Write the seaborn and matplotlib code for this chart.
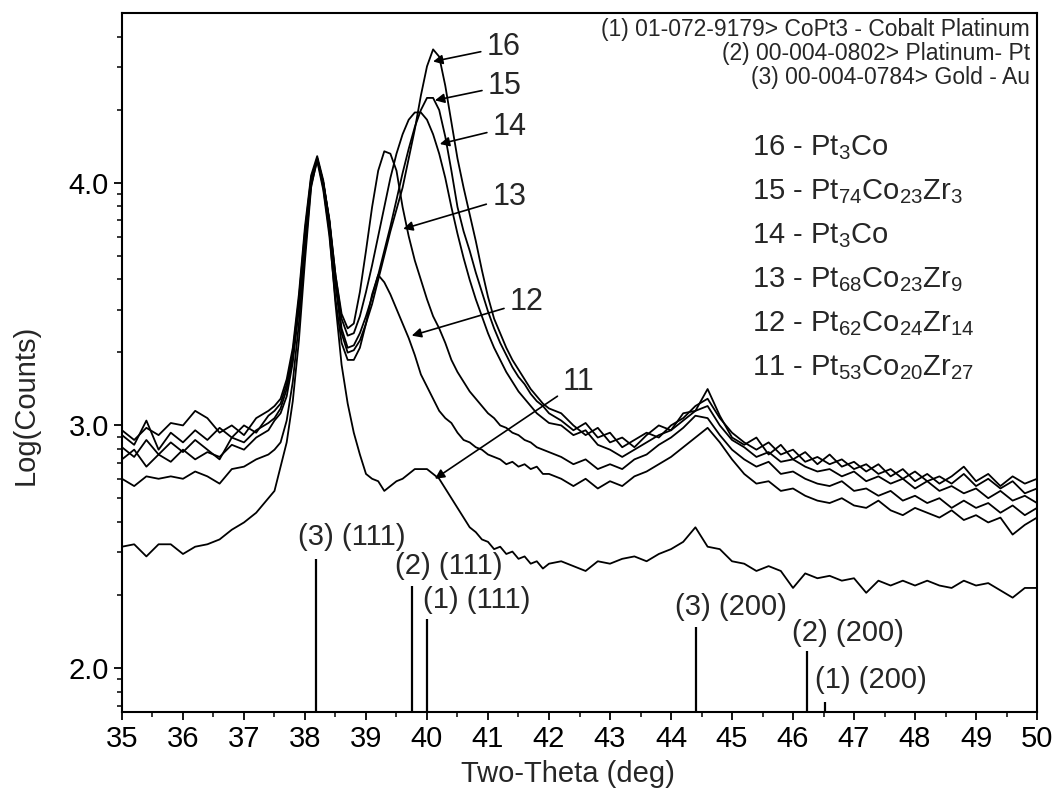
import numpy as np
import pandas as pd
import matplotlib
matplotlib.use("Agg")
import matplotlib.pyplot as plt
import seaborn as sns

# two-theta grid: coarse on the flat parts, finer across the peaks
two_theta = np.round(np.concatenate([
    np.arange(35.0, 37.41, 0.2),
    np.arange(37.5, 42.01, 0.1),
    np.arange(42.2, 50.01, 0.2),
]), 2)

# Log(Counts), one list per sample
s11 = [2.50, 2.51, 2.46, 2.51, 2.51, 2.47, 2.50, 2.51, 2.53, 2.57, 2.60, 2.64, 2.70,
       2.73, 2.83, 2.93, 3.10, 3.35, 3.68, 3.98, 4.10, 3.98, 3.80,
       3.50, 3.25, 3.09, 2.97, 2.88, 2.80, 2.78, 2.77, 2.73, 2.75,
       2.77, 2.78, 2.80, 2.82, 2.82, 2.82, 2.80, 2.78, 2.74, 2.70,
       2.66, 2.62, 2.58, 2.56, 2.53, 2.52, 2.49, 2.50, 2.47, 2.48,
       2.45, 2.46, 2.43, 2.44, 2.41, 2.43,
       2.44, 2.42, 2.40, 2.44, 2.43, 2.45, 2.46, 2.44, 2.47, 2.49,
       2.52, 2.58, 2.50, 2.49, 2.44, 2.43, 2.40, 2.42, 2.40, 2.33,
       2.39, 2.37, 2.38, 2.36, 2.37, 2.31, 2.36, 2.34, 2.36, 2.34,
       2.36, 2.34, 2.33, 2.36, 2.34, 2.35, 2.32, 2.29, 2.33, 2.33]
s12 = [2.78, 2.75, 2.79, 2.78, 2.79, 2.78, 2.81, 2.79, 2.76, 2.82, 2.83, 2.86, 2.88,
       2.90, 2.93, 3.02, 3.18, 3.42, 3.72, 3.99, 4.09, 3.97, 3.78,
       3.52, 3.34, 3.27, 3.27, 3.32, 3.42, 3.54, 3.62, 3.59, 3.54,
       3.48, 3.42, 3.36, 3.29, 3.21, 3.16, 3.11, 3.06, 3.03, 3.01,
       2.97, 2.94, 2.93, 2.91, 2.90, 2.88, 2.87, 2.86, 2.84, 2.85,
       2.83, 2.84, 2.82, 2.83, 2.80, 2.80,
       2.78, 2.75, 2.78, 2.74, 2.77, 2.75, 2.79, 2.81, 2.84, 2.87,
       2.91, 2.95, 2.99, 2.93, 2.86, 2.80, 2.76, 2.77, 2.73, 2.74,
       2.71, 2.69, 2.68, 2.70, 2.67, 2.66, 2.69, 2.65, 2.63, 2.66,
       2.64, 2.62, 2.65, 2.61, 2.63, 2.60, 2.62, 2.55, 2.59, 2.62]
s13 = [2.86, 2.90, 2.83, 2.88, 2.85, 2.90, 2.86, 2.89, 2.87, 2.92, 2.90, 2.95, 2.98,
       3.02, 3.05, 3.12, 3.26, 3.48, 3.76, 4.00, 4.10, 4.00, 3.84,
       3.62, 3.46, 3.40, 3.42, 3.55, 3.72, 3.90, 4.05, 4.13, 4.12,
       4.05, 3.90, 3.78, 3.68, 3.60, 3.52, 3.45, 3.40, 3.34, 3.27,
       3.22, 3.18, 3.14, 3.11, 3.08, 3.05, 3.03, 3.00, 2.99, 2.97,
       2.96, 2.94, 2.93, 2.91, 2.90, 2.89,
       2.87, 2.84, 2.86, 2.82, 2.84, 2.82, 2.86, 2.88, 2.92, 2.95,
       2.99, 3.04, 3.03, 2.96, 2.90, 2.86, 2.83, 2.85, 2.80, 2.81,
       2.78, 2.76, 2.75, 2.77, 2.73, 2.74, 2.71, 2.73, 2.69, 2.71,
       2.68, 2.70, 2.66, 2.69, 2.66, 2.68, 2.64, 2.67, 2.63, 2.66]
s14 = [2.91, 2.87, 2.94, 2.88, 2.93, 2.89, 2.94, 2.90, 2.86, 2.95, 2.93, 2.98, 3.01,
       3.03, 3.07, 3.15, 3.28, 3.50, 3.78, 4.01, 4.10, 4.00, 3.85,
       3.62, 3.44, 3.37, 3.38, 3.45, 3.55, 3.66, 3.78, 3.90, 4.02,
       4.12, 4.20, 4.26, 4.29, 4.29, 4.26, 4.20, 4.12, 4.02, 3.90,
       3.79, 3.69, 3.60, 3.52, 3.45, 3.38, 3.32, 3.27, 3.22, 3.18,
       3.14, 3.11, 3.08, 3.05, 3.03, 3.01,
       3.00, 2.96, 2.98, 2.92, 2.90, 2.87, 2.90, 2.93, 2.96, 2.98,
       3.02, 3.06, 3.08, 3.00, 2.94, 2.91, 2.87, 2.89, 2.85, 2.86,
       2.83, 2.81, 2.82, 2.79, 2.81, 2.77, 2.79, 2.76, 2.78, 2.74,
       2.77, 2.73, 2.75, 2.72, 2.74, 2.70, 2.73, 2.69, 2.71, 2.68]
s15 = [2.96, 2.92, 3.02, 2.90, 2.97, 2.93, 2.98, 2.94, 2.99, 2.95, 3.00, 2.97, 3.04,
       3.06, 3.09, 3.17, 3.30, 3.52, 3.80, 4.02, 4.10, 4.00, 3.84,
       3.60, 3.40, 3.32, 3.33, 3.38, 3.45, 3.53, 3.62, 3.72, 3.82,
       3.93, 4.04, 4.14, 4.23, 4.30, 4.35, 4.35, 4.30, 4.19, 4.05,
       3.90, 3.80, 3.72, 3.63, 3.55, 3.47, 3.40, 3.34, 3.29, 3.24,
       3.20, 3.17, 3.13, 3.10, 3.08, 3.05,
       3.02, 2.98, 3.01, 2.95, 2.97, 2.91, 2.94, 2.97, 2.95, 3.00,
       3.03, 3.08, 3.11, 3.03, 2.97, 2.93, 2.90, 2.93, 2.88, 2.90,
       2.85, 2.87, 2.84, 2.86, 2.82, 2.84, 2.80, 2.82, 2.78, 2.81,
       2.77, 2.79, 2.76, 2.80, 2.75, 2.78, 2.74, 2.77, 2.72, 2.74]
s16 = [2.98, 2.94, 2.99, 2.96, 3.01, 3.00, 3.06, 3.03, 2.97, 3.00, 2.96, 3.03, 3.06,
       3.08, 3.11, 3.19, 3.32, 3.54, 3.82, 4.03, 4.11, 4.01, 3.84,
       3.58, 3.38, 3.30, 3.31, 3.35, 3.42, 3.50, 3.60, 3.70, 3.80,
       3.89, 3.98, 4.10, 4.22, 4.36, 4.48, 4.55, 4.52, 4.40, 4.25,
       4.10, 3.98, 3.87, 3.76, 3.64, 3.53, 3.44, 3.38, 3.32, 3.27,
       3.23, 3.19, 3.15, 3.12, 3.09, 3.07,
       3.05, 3.00, 2.96, 2.99, 2.93, 2.95, 2.91, 2.96, 3.00, 2.98,
       3.05, 3.06, 3.15, 3.04, 2.95, 2.92, 2.95, 2.88, 2.92, 2.86,
       2.89, 2.84, 2.88, 2.83, 2.85, 2.81, 2.84, 2.79, 2.82, 2.77,
       2.80, 2.76, 2.79, 2.83, 2.77, 2.80, 2.75, 2.79, 2.76, 2.78]

samples = ["11", "12", "13", "14", "15", "16"]
series = [s11, s12, s13, s14, s15, s16]

# reference patterns (stick positions and heights)
ref_pos = [38.18, 39.76, 40.00, 44.41, 46.23, 46.53]
ref_height = [2.45, 2.34, 2.20, 2.17, 2.07, 1.86]
ref_labels = ["(3) (111)", "(2) (111)", "(1) (111)", "(3) (200)", "(2) (200)", "(1) (200)"]
ref_label_xy = [(37.89, 2.54), (39.48, 2.42), (39.93, 2.28),
                (44.07, 2.25), (45.98, 2.145), (46.36, 1.95)]

# arrow labels: sample, arrow tip, text position
arrow_tips = [(40.10, 4.50), (40.13, 4.34), (40.21, 4.16), (39.61, 3.81), (39.75, 3.37), (40.13, 2.78)]
arrow_text = [(40.98, 4.56), (41.00, 4.40), (41.08, 4.23), (41.07, 3.94), (41.36, 3.51), (42.23, 3.18)]
arrow_names = ["16", "15", "14", "13", "12", "11"]

compositions = [
    "16 - Pt$_3$Co",
    "15 - Pt$_{74}$Co$_{23}$Zr$_3$",
    "14 - Pt$_3$Co",
    "13 - Pt$_{68}$Co$_{23}$Zr$_9$",
    "12 - Pt$_{62}$Co$_{24}$Zr$_{14}$",
    "11 - Pt$_{53}$Co$_{20}$Zr$_{27}$",
]
pdf_cards = [
    "(1) 01-072-9179> CoPt3 - Cobalt Platinum",
    "(2) 00-004-0802> Platinum- Pt",
    "(3) 00-004-0784> Gold - Au",
]

for s in series:
    assert len(s) == len(two_theta)

df = pd.concat([pd.DataFrame({"two_theta": two_theta, "log_counts": s, "sample": name})
                for name, s in zip(samples, series)], ignore_index=True)

sns.set_theme(style="ticks")
plt.rcParams["font.family"] = ["Liberation Sans", "DejaVu Sans"]
plt.rcParams["mathtext.fontset"] = "custom"
plt.rcParams["mathtext.rm"] = "Liberation Sans"
plt.rcParams["mathtext.it"] = "Liberation Sans"
plt.rcParams["mathtext.default"] = "regular"

fig = plt.figure(figsize=(10.57, 8.02), dpi=100)
ax = fig.add_axes([0.1154, 0.1122, 0.8657, 0.8716])

sns.lineplot(data=df, x="two_theta", y="log_counts", units="sample", estimator=None,
             color="black", lw=1.3, ax=ax, legend=False)

y_bottom, y_top = 1.8186, 4.70
ax.vlines(ref_pos, y_bottom, ref_height, color="black", lw=1.6)
for lab, (lx, ly) in zip(ref_labels, ref_label_xy):
    ax.text(lx, ly, lab, fontsize=21, ha="left", va="center")

for name, tip, txt in zip(arrow_names, arrow_tips, arrow_text):
    ax.annotate(name, xy=tip, xytext=txt, fontsize=22, ha="left", va="center",
                arrowprops=dict(arrowstyle="-|>", color="black", lw=1.2,
                                mutation_scale=14, shrinkA=2, shrinkB=0))

for i, comp in enumerate(compositions):
    ax.text(45.33, 4.144 - i * 0.1815, comp, fontsize=21, ha="left", va="center")

for i, card in enumerate(pdf_cards):
    ax.text(0.9925, 0.976 - i * 0.0338, card, transform=ax.transAxes, fontsize=16.5,
            ha="right", va="center")

ax.set_xlim(35, 50)
ax.set_ylim(y_bottom, y_top)
ax.set_xticks(np.arange(35, 51, 1))
ax.set_xticks(np.arange(35.5, 50, 1), minor=True)
ax.set_yticks([2.0, 3.0, 4.0])
ax.set_yticklabels(["2.0", "3.0", "4.0"])
minor_counts = [70, 80, 90] + [k * 100 for k in range(2, 10)] + \
    [k * 1000 for k in range(2, 10)] + [k * 10000 for k in range(2, 5)]
ax.set_yticks(np.log10(minor_counts), minor=True)
ax.tick_params(axis="both", which="major", direction="out", length=6, width=1.3,
               labelsize=21, color="black", labelcolor="black")
ax.tick_params(axis="both", which="minor", direction="out", length=3.5, width=1.1, color="black")
for sp in ax.spines.values():
    sp.set_visible(True)
    sp.set_linewidth(1.5)
    sp.set_color("black")

ax.set_xlabel("Two-Theta (deg)", fontsize=21)
ax.set_ylabel("Log(Counts)", fontsize=21)
ax.xaxis.set_label_coords(0.487, -0.068)
ax.yaxis.set_label_coords(-0.09, 0.44)

fig.savefig("out.png", dpi=100, facecolor="white")
